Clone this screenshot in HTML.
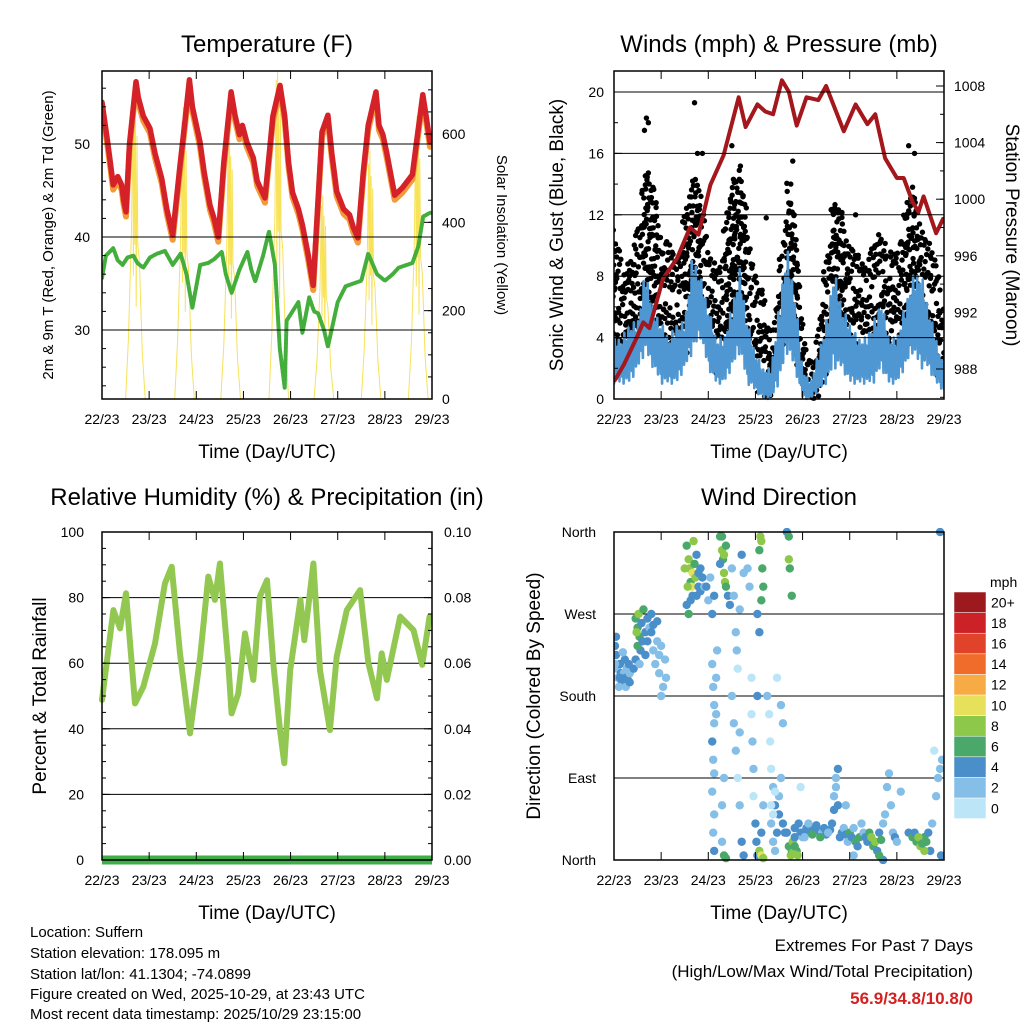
<!DOCTYPE html>
<html><head><meta charset="utf-8"><style>
body{margin:0;background:#fff;width:1024px;height:1024px;overflow:hidden;font-family:"Liberation Sans",sans-serif}
svg text{font-family:"Liberation Sans",sans-serif;fill:#000}
</style></head><body>
<svg id="c" width="1024" height="1024" viewBox="0 0 1024 1024" xmlns="http://www.w3.org/2000/svg">
<text x="267" y="52" font-size="24" text-anchor="middle">Temperature (F)</text>
<text x="779" y="52" font-size="24" text-anchor="middle">Winds (mph) &amp; Pressure (mb)</text>
<text x="267" y="505" font-size="24" text-anchor="middle">Relative Humidity (%) &amp; Precipitation (in)</text>
<text x="779" y="505" font-size="24" text-anchor="middle">Wind Direction</text>
<text transform="translate(53,235) rotate(-90)" font-size="15" text-anchor="middle">2m &amp; 9m T (Red, Orange) &amp; 2m Td (Green)</text>
<text transform="translate(497,235) rotate(90)" font-size="15" text-anchor="middle">Solar Insolation (Yellow)</text>
<text transform="translate(563,235) rotate(-90)" font-size="19" text-anchor="middle">Sonic Wind &amp; Gust (Blue, Black)</text>
<text transform="translate(1006,235) rotate(90)" font-size="19" text-anchor="middle">Station Pressure (Maroon)</text>
<text transform="translate(46,696) rotate(-90)" font-size="19" text-anchor="middle">Percent &amp; Total Rainfall</text>
<text transform="translate(540,696) rotate(-90)" font-size="19" text-anchor="middle">Direction (Colored By Speed)</text>
<g font-size="15">
<text x="30" y="937">Location: Suffern</text>
<text x="30" y="958">Station elevation: 178.095 m</text>
<text x="30" y="979">Station lat/lon: 41.1304; -74.0899</text>
<text x="30" y="999">Figure created on Wed, 2025-10-29, at 23:43 UTC</text>
<text x="30" y="1019">Most recent data timestamp: 2025/10/29 23:15:00</text>
</g>
<g>
<text x="973" y="951" font-size="17" text-anchor="end">Extremes For Past 7 Days</text>
<text x="973" y="977" font-size="17" text-anchor="end">(High/Low/Max Wind/Total Precipitation)</text>
<text x="973" y="1004" font-size="17" font-weight="bold" text-anchor="end" style="fill:#d42020">56.9/34.8/10.8/0</text>
</g>
</svg>
<script>
// ---------- data ----------
const dayLabels=["22/23","23/23","24/23","25/23","26/23","27/23","28/23","29/23"];
const tempHours=[0,3,5.7,8,10,11,12.2,14,17.3,18.5,21,24.4,27,30.4,33,36,39.7,42,44.5,46,49.9,52,55,57,59.2,62,65.7,67.7,70,71.5,73.7,77,79,83,87,90.6,93,95,97,100,102,105,107.5,110,112,115,117,119.5,123,126,128,130.3,133,135.5,139.5,141,143,145,149,153,158,160,163.3,165,167];
const temp2m=[54.5,50,45.6,46.5,45.6,44,42.7,50,56.7,55,53,51.7,49,46.3,43,40.2,47.7,52,56.9,54,50.2,47,43.4,42,40,48,55.6,53.1,51,52,50.2,48.5,46,44.2,53,56.3,53,48,44.8,43,41.3,38,34.8,44,51.3,53.1,49,44.9,43,42.4,41,39.9,47,52,55.6,52,51,49,44.5,45.3,46.7,50,55.3,53,50.2];
const dewHours=[0,2,5.7,8,10.5,13,16,18,21,24.4,28,32,36,40,43,46,50,54,57,61,63,66,70,74,76,78,82,85,88,90.5,93,94,97,100,102,105.5,108,110,113,115,120,124,128,132,135.5,140,144,148,151,158,161,163.5,167];
const dewpoint=[35.6,38,38.8,37.5,37,37.8,38,37.2,36.7,37.8,38.2,38.5,37,38.2,36,32.4,37,37.2,37.6,38.4,36,34,36.5,38.4,36.5,35.2,38,40.6,37,28,23.8,31,32,33,29.7,33.5,32,31.8,30,28.2,33,34.7,35,35.3,38.2,36,35.3,36,36.7,37.2,39,42.2,42.6];
const solarPeakHours=[17,42,65.5,90,113,137,161];
const solarPeaks=[700,660,610,760,460,560,640];
const pressHours=[0.4,5,11.5,14.9,18,25,32,38.7,43,49,55.8,63.5,67,73,77,81,85.5,89,93,98,104,108,117,123,129,133,138,144,147.5,152,155,157.6,164,167.5];
const pressure=[987.2,988.3,990.2,991.3,990.9,994.4,995.8,998,997.5,1001,1003.1,1007.2,1005.1,1006.7,1006.2,1006,1008.4,1007.6,1005.2,1007.2,1007,1008,1004.8,1006.7,1005.3,1006,1002.9,1001.5,1001.5,999.8,999.1,1000.2,997.6,998.6];
const envHours=[0,4,8,12,16,20,24,28,32,36,40,44,48,52,56,60,64,68,72,76,80,84,88,92,96,100,104,108,112,116,120,124,128,132,136,140,144,148,152,156,160,164,168];
const gustHigh=[11,9,9,12,15,14,10,11,9,12,15,14,10,8,11,14,15,12,8,7,4,8,14,12,5,2,4,10,13,12,10,10,9,11,11,9,10,12,14,12,11,9,6];
const gustLow=[3,3,4,4,5,4,3,3,2,3,4,6,3,2,2,4,5,3,1,0.5,0.3,2,5,3,1,0,0.5,2,4,3,3,3,2,3,4,3,3,3,4,4,3,2,1];
const windHigh=[4,4,5,5,8.5,6,5,4,5,5,9.5,8,6,4,4,6,8.5,5,3,2,2,6,10,7,2,1,3,5,8.5,6,5,4,4,5,6.5,4,4,6,8,8.5,6,4,2];
const windLow=[1,1,1,2,3,2,1,1,1,2,3,4,2,1,1,2,3,1,0.5,0,0,1,3,2,0,0,0.5,1,2,2,1,1,1,1,2,1,1,2,3,2,2,1,0.5];
const gustOutlierHours=[15.5,16.5,17.5,41,42.5,45,60,77.5,90,91,112,123,150,153];
const gustOutliers=[17.5,18.3,18,19.3,16,16,16.5,11.8,14,15.5,11,12,16.5,16];
const rhHours=[0,5.8,9.2,12.2,16.8,21,27,32,35.5,39.7,44.8,50,54.1,57.5,60,64.3,66,69.4,72.8,77,80.4,84,87.2,90.6,92.8,95.8,101,103,107.6,111,116,119.5,124.6,131.4,135.6,140,142.4,145,151.8,158.6,163,166.8];
const rhValues=[48.8,76.2,70.6,81.3,47.7,52.8,66,84.3,89.4,63,38.6,62,86.4,79.3,90.4,60,44.7,50.8,69.1,54.9,80.3,85.3,60,39.6,29.5,57.9,79.3,67,90.4,57.9,39.6,62,76.2,82.3,60,49.3,63,54.9,74.2,70.1,59.5,74.2];
const precipTotal=[0,0];
const dirPoints=[[0.5,235,4],[1,225,4],[1.5,210,2],[2,200,2],[3,215,4],[3.5,205,4],[4,195,4],[5,205,2],[5.5,220,4],[6,200,4],[6.5,210,2],[7,198,4],[7.5,215,4],[8,205,2],[1,245,4],[2.5,190,2],[4.5,228,2],[3,200,4],[6,190,2],[8,195,4],[0.5,215,2],
[11,265,6],[12,255,6],[12.5,270,8],[13,245,6],[13.5,230,4],[14,260,4],[15,275,6],[16,250,4],[17,240,4],[12,235,6],[11,220,4],[10,210,4],[13,215,2],[16,225,4],[11.5,250,8],[14.5,240,4],
[17,265,4],[18,255,2],[19,250,4],[20,230,2],[21,215,2],[22,240,2],[23,205,2],[24,180,2],[25,190,2],[26,220,2],[26.5,200,2],[19,270,4],[22,262,4],[24,235,2],[20,258,4],[23,225,2],
[37,345,6],[38,330,8],[38.5,320,8],[39,305,6],[39.5,300,10],[40,315,10],[40.5,350,8],[41,325,6],[41.5,310,8],[42,290,4],[43,300,4],[44,320,4],[45,310,4],[37,280,4],[38,270,6],[39,285,4],[42,335,4],[44,295,4],[46,300,2],[36,320,8],[37.5,300,8],[40,290,4],[43,315,4],
[47,300,4],[48,285,2],[49,310,2],[50,270,4],[51,290,4],[50,215,2],[50.5,190,2],[51,170,2],[51,150,2],[50,130,4],[50.5,110,2],[51,95,2],[50,75,2],[51,50,2],[50.5,30,2],[51,10,4],[52,160,2],[52,200,2],[52.5,230,2],
[54,355,6],[55,340,8],[55.5,330,6],[56,315,8],[56.5,305,8],[57,300,6],[58,290,4],[54,325,4],[57,345,6],[59,280,4],[55,20,2],[56,5,6],[57,2,6],[56,90,2],[55,60,2],[55,355,6],[56,335,8],
[60,320,2],[61,290,2],[62,250,2],[62.5,230,2],[63,210,0],[64,275,2],[65,335,4],[66,315,2],[60,180,2],[61,150,2],[62,120,2],[63,90,0],[64,60,2],[65,20,4],[66,5,4],[64,140,2],
[68,320,2],[69,300,2],[70,160,0],[70.5,130,2],[71,100,2],[71,70,0],[72,40,4],[72.5,20,4],[73,5,4],[70,200,0],[73,180,4],[74,250,4],
[74,340,6],[74.5,355,8],[75,350,8],[75.5,320,6],[76,300,6],[74,10,8],[75,5,10],[76,2,8],[75,30,4],[76,60,2],[73,270,4],[75,285,6],
[78,180,2],[79,160,0],[79.5,130,0],[80,100,0],[81,80,2],[82,60,4],[80,40,2],[81,20,2],[82,10,2],[83,30,4],[84,50,4],[84,70,2],[85,90,2],[86,40,4],[83,200,0],[85,170,2],[86,150,2],[87,30,4],[80,60,0],[81,50,0],[82,75,0],
[88,30,4],[89,15,6],[90,5,8],[90.5,10,6],[91,20,8],[92,25,4],[93,10,6],[93.5,5,8],[92,35,4],[94,40,4],[95,30,4],[96,25,2],[88,360,4],[89,355,6],[89,330,8],[89.5,320,6],[90.5,290,6],[95,80,0],[91,8,8],[92,15,6],
[96,30,4],[98,35,4],[100,30,4],[102,35,4],[104,32,4],[106,30,2],[108,28,4],[110,33,4],[97,25,2],[99,40,2],[101,28,6],[103,38,4],[105,25,6],[107,35,4],[109,30,2],[111,40,4],[112,70,2],[113,90,2],[114,100,4],[112,55,4],[113,80,2],[114,60,4],
[115,25,4],[116,30,4],[117,35,2],[118,28,4],[119,20,2],[120,30,6],[121,25,4],[122,35,2],[123,20,6],[124,15,4],[125,25,6],[126,40,2],[127,30,2],[118,60,2],[122,5,2],
[128,25,4],[129,20,4],[130,30,6],[131,25,8],[132,15,6],[133,20,8],[134,10,4],[135,30,4],[136,22,6],[137,40,2],[138,50,2],[139,80,2],[140,95,2],[137,0,4],[135,5,6],
[141,60,2],[142,30,2],[143,25,4],[144,20,2],[146,75,2],[150,30,4],[152,25,6],[154,20,6],[156,15,8],[158,25,6],[160,30,4],[162,40,2],[164,70,2],[165,90,2],[166,100,2],[167,110,2],[161,10,4],[163,120,0],[166.5,5,4],[158,10,8],[159,20,6],[166,360,4],[153,30,4],[155,25,8],[157,18,6]];
const speedBins=["0","2","4","6","8","10","12","14","16","18","20+"];
const binColors=["#bde5f8","#85bfe8","#4a8fc9","#4aa86a","#8dc84a","#e6e05a","#f7ab45","#f06c2b","#e1422a","#cc2127","#9c1a1d"];

// ---------- helpers ----------
const svg=document.getElementById('c');
const NS="http://www.w3.org/2000/svg";
function mk(tag,attrs,parent){const e=document.createElementNS(NS,tag);for(const k in attrs)e.setAttribute(k,attrs[k]);(parent||svg).appendChild(e);return e;}
function lin(d0,d1,r0,r1){return v=>r0+(v-d0)*(r1-r0)/(d1-d0);}

function panel(name,L,T,R,B){
  const g=mk('g',{});
  
  
  const x=lin(0,168,L,R);
  return {g,x,L,T,R,B};
}
function frame(p,name){
  const r=mk('rect',{x:p.L,y:p.T,width:p.R-p.L,height:p.B-p.T,fill:'none',stroke:'#000','stroke-width':1.5},p.g);
  
  
  for(let d=0;d<8;d++){
    const xx=p.x(d*24);
    mk('line',{x1:xx,x2:xx,y1:p.B,y2:p.B-8,stroke:'#000','stroke-width':1},p.g);
    mk('line',{x1:xx,x2:xx,y1:p.T,y2:p.T+8,stroke:'#000','stroke-width':1},p.g);
    const t=mk('text',{x:xx,y:p.B+25,'font-size':14,'text-anchor':'middle'},p.g);
    t.textContent=dayLabels[d];
    
    
  }
  const xt=mk('text',{x:(p.L+p.R)/2,y:p.B+59,'font-size':19,'text-anchor':'middle'},p.g);
  xt.textContent='Time (Day/UTC)';
  
  
}
function yaxis(p,scale,ticks,labels,side,minor,offset){
  ticks.forEach((v,i)=>{
    const yy=scale(v);
    const xx=side==='left'?p.L:p.R;
    const dir=side==='left'?1:-1;
    mk('line',{x1:xx,x2:xx+dir*8,y1:yy,y2:yy,stroke:'#000'},p.g);
    const t=mk('text',{x:side==='left'?p.L-offset:p.R+offset,y:yy+5,'font-size':14,'text-anchor':side==='left'?'end':'start'},p.g);
    t.textContent=labels[i];
    
    
  });
  (minor||[]).forEach(v=>{
    const yy=scale(v);const xx=side==='left'?p.L:p.R;const dir=side==='left'?1:-1;
    if(yy>p.T&&yy<p.B) mk('line',{x1:xx,x2:xx+dir*4,y1:yy,y2:yy,stroke:'#000'},p.g);
  });
}
function grid(p,scale,ticks){
  ticks.forEach(v=>{const yy=scale(v);if(yy>p.T+1&&yy<p.B-1){const l=mk('line',{x1:p.L,x2:p.R,y1:yy,y2:yy,stroke:'#000','stroke-width':1},p.g);
    
    }});
}
function poly(p,xs,ys,xf,yf,attrs,name){
  const pts=xs.map((h,i)=>xf(h).toFixed(1)+','+yf(ys[i]).toFixed(1)).join(' ');
  const e=mk('polyline',Object.assign({points:pts,fill:'none','stroke-linejoin':'round','stroke-linecap':'round'},attrs),p.g);
  
  
  return e;
}
function minorList(a,b,s){const r=[];for(let v=a;v<=b+1e-9;v+=s)r.push(v);return r;}
function env(arr,h){let k=Math.min(envHours.length-2,Math.floor(h/4));const f=(h-envHours[k])/4;return arr[k]+(arr[k+1]-arr[k])*f;}

// ---------- Temperature ----------
(function(){
  const p=panel('temperature',102,71,432,399);
  const yT=lin(30,50,330,144);
  const yS=lin(0,600,399,134);
  const clip=mk('clipPath',{id:'clipT'},p.g);mk('rect',{x:p.L,y:p.T,width:p.R-p.L,height:p.B-p.T},clip);
  const inner=mk('g',{'clip-path':'url(#clipT)'},p.g);
  const q={g:inner};
  grid(p,yT,[30,40,50]);
  solarPeakHours.forEach((h,i)=>{
    const pk=solarPeaks[i];
    const hs=[h-5,h-3.5,h-2,h-1.3,h-1,h-0.6,h-0.3,h,h+0.4,h+0.8,h+1.2,h+2,h+3.5,h+5];
    const fr=[0,0.2,0.55,0.95,0.4,1,0.5,0.9,0.3,0.85,0.5,0.45,0.15,0];
    poly(q,hs,fr.map(f=>f*pk),p.x,yS,{stroke:'#f7e25a','stroke-width':1},'solar-insolation-day');
  });
  poly(q,tempHours,temp2m.map(v=>v-0.5),p.x,yT,{stroke:'#f39a3a','stroke-width':6},'temp-9m-line');
  poly(q,tempHours,temp2m,p.x,yT,{stroke:'#d42228','stroke-width':5.5},'temp-2m-line');
  poly(q,dewHours,dewpoint,p.x,yT,{stroke:'#44ae3c','stroke-width':4,'stroke-dasharray':'2.5 1.5'},'dewpoint-line');
  frame(p,'temperature');
  yaxis(p,yT,[30,40,50],['30','40','50'],'left',minorList(22,58,2),12);
  yaxis(p,yS,[0,200,400,600],['0','200','400','600'],'right',minorList(0,740,50),10);
})();

// ---------- Winds & Pressure ----------
(function(){
  const p=panel('winds',614,71,944,399);
  const yW=lin(0,20,399,92);
  const yP=lin(988,1008,369,86);
  const clip=mk('clipPath',{id:'clipW'},p.g);mk('rect',{x:p.L,y:p.T-2,width:p.R-p.L,height:p.B-p.T+4},clip);
  const inner=mk('g',{'clip-path':'url(#clipW)'},p.g);
  grid(p,yW,[4,8,12,16,20]);
  const jit=[0,0.6,-0.4,0.9,-0.8,0.3,-0.2,0.75,-0.6,0.45];
  let n=0;
  for(let h=0;h<=168;h+=0.55){
    const hi=env(gustHigh,h),lo=env(gustLow,h);
    const span=hi-lo;
    const step=1.1+ (n%4)*0.35;
    for(let v=lo+(n%3)*0.4;v<=hi;v+=step){
      n++;
      const c=mk('circle',{cx:p.x(h+jit[n%10]*0.6),cy:yW(v+jit[(n+3)%10]*0.5),r:2.7,fill:'#000'},inner);
      
      
    }
  }
  gustOutlierHours.forEach((h,i)=>{
    const c=mk('circle',{cx:p.x(h),cy:yW(gustOutliers[i]),r:2.7,fill:'#000'},inner);
    
    
  });
  const pat=[0,1,0.35,0.8,0.1,0.55,0.2,0.95,0.05,0.7,0.4,0.85,0.15,0.6];
  const zh=[],zv=[];
  for(let h=0,j=0;h<=168;h+=0.35,j++){
    const hi=env(windHigh,h),lo=env(windLow,h);
    zh.push(h);zv.push(lo+(hi-lo)*pat[j%pat.length]);
  }
  poly({g:inner},zh,zv,p.x,yW,{stroke:'#4f97d2','stroke-width':2.6},'sonic-wind-line');
  poly({g:inner},pressHours,pressure,p.x,yP,{stroke:'#a4171c','stroke-width':4},'pressure-line');
  frame(p,'winds');
  yaxis(p,yW,[0,4,8,12,16,20],['0','4','8','12','16','20'],'left',minorList(0,21,2),10);
  yaxis(p,yP,[988,992,996,1000,1004,1008],['988','992','996','1000','1004','1008'],'right',minorList(986,1010,2),10);
})();

// ---------- RH ----------
(function(){
  const p=panel('humidity',102,532,432,860);
  const yR=lin(0,100,860,532);
  const yPr=lin(0,0.1,860,532);
  grid(p,yR,[20,40,60,80]);
  poly(p,rhHours,rhValues,p.x,yR,{stroke:'#92c851','stroke-width':6},'relative-humidity-line');
  poly(p,[0,168],precipTotal,p.x,yPr,{stroke:'#3fae49','stroke-width':9,'stroke-linecap':'butt'},'precipitation-line');
  frame(p,'humidity');
  yaxis(p,yR,[0,20,40,60,80,100],['0','20','40','60','80','100'],'left',minorList(0,100,5),18);
  yaxis(p,yPr,[0,0.02,0.04,0.06,0.08,0.1],['0.00','0.02','0.04','0.06','0.08','0.10'],'right',minorList(0,0.1,0.005),12);
})();

// ---------- Wind direction ----------
(function(){
  const p=panel('wind-direction',614,532,944,860);
  const yD=lin(0,360,860,532);
  grid(p,yD,[90,180,270]);
  const clip=mk('clipPath',{id:'clipD'},p.g);mk('rect',{x:p.L,y:p.T-4,width:p.R-p.L,height:p.B-p.T+8},clip);
  const inner=mk('g',{'clip-path':'url(#clipD)'},p.g);
  dirPoints.forEach(d=>{
    const bin=Math.min(10,Math.floor(d[2]/2));
    const c=mk('circle',{cx:p.x(d[0]),cy:yD(d[1]),r:4.2,fill:binColors[bin]},inner);
    
    
  });
  frame(p,'wind-direction');
  yaxis(p,yD,[0,90,180,270,360],['North','East','South','West','North'],'left',[],18);
  const cb=mk('g',{});
  
  
  const t=mk('text',{x:990,y:587,'font-size':14},cb);t.textContent='mph';
  const top=592,h=20.6;
  speedBins.forEach((lab,i)=>{
    const yy=top+(10-i)*h;
    const r=mk('rect',{x:954,y:yy,width:32,height:h,fill:binColors[i],stroke:'#fff','stroke-width':0.5},cb);
    
    
    const tx=mk('text',{x:991,y:yy+h/2+5,'font-size':14},cb);tx.textContent=lab;
  });
})();
</script>
</body></html>
